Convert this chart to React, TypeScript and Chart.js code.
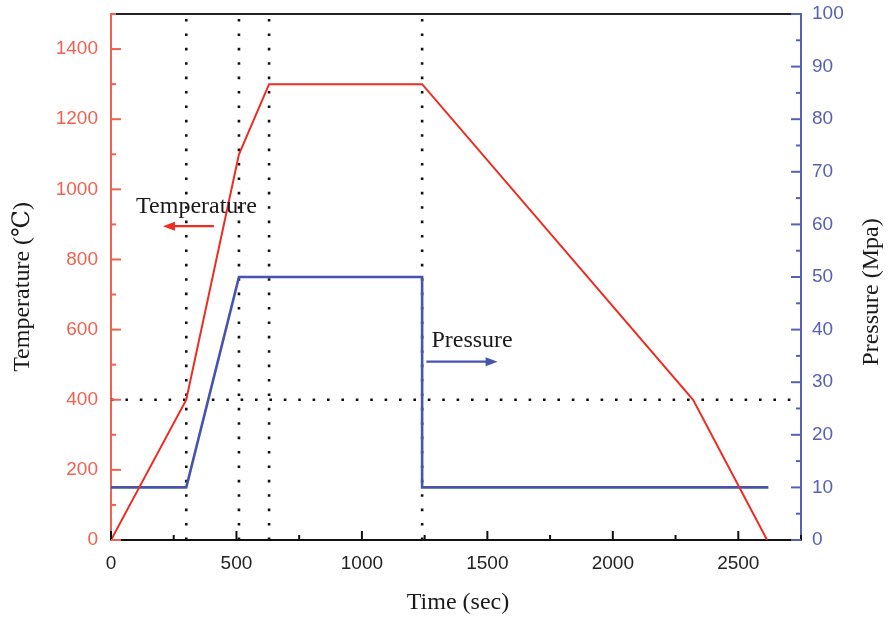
import React, { useEffect, useRef } from "react";
import { Chart, registerables } from "chart.js";

Chart.register(...registerables);

// ---- data ----
const tempTimes = [0, 300, 510, 630, 1240, 2320, 2615];
const tempValues = [0, 400, 1100, 1300, 1300, 400, 0];
const pressTimes = [0, 300, 510, 1240, 1240, 2620];
const pressValues = [10, 10, 50, 50, 10, 10];
const markerTimes = [300, 510, 630, 1240];
const markerTemp = 400;
const xTickValues = [0, 500, 1000, 1500, 2000, 2500];
const leftTickValues = [0, 200, 400, 600, 800, 1000, 1200, 1400];
const rightTickValues = [0, 10, 20, 30, 40, 50, 60, 70, 80, 90, 100];
const xTickStep = 500;
const leftTickStep = 200;
const rightTickStep = 10;
const xRange = [0, 2750];
const leftRange = [0, 1500];
const rightRange = [0, 100];

const RED = "#ee2c22";
const RED_AXIS = "#f2614f";
const BLUE = "#4654ae";
const BLUE_AXIS = "#5661b5";
const SERIF = "'Liberation Serif', 'DejaVu Serif', serif";
const SANS = "'Liberation Sans', Arial, sans-serif";

const dotStyle = {
  borderColor: "#111",
  borderWidth: 2.6,
  borderDash: [2.6, 11.8],
  pointRadius: 0,
  fill: false,
  tension: 0,
};

const decorPlugin = {
  id: "decor",
  afterDraw(chart: any) {
    const { ctx, chartArea } = chart;
    const x = chart.scales.x;
    const y = chart.scales.y;
    const y1 = chart.scales.y1;
    const { left, right, top, bottom } = chartArea;
    ctx.save();
    // top frame line
    ctx.strokeStyle = "#222";
    ctx.lineWidth = 2;
    ctx.beginPath();
    ctx.moveTo(left, top);
    ctx.lineTo(right, top);
    ctx.stroke();
    // x ticks (inward)
    ctx.strokeStyle = "#111";
    ctx.lineWidth = 2;
    for (let v = xRange[0]; v <= xRange[1]; v += xTickStep / 2) {
      const px = x.getPixelForValue(v);
      const major = v % xTickStep === 0;
      ctx.beginPath();
      ctx.moveTo(px, bottom);
      ctx.lineTo(px, bottom - (major ? 9 : 5));
      ctx.stroke();
    }
    // left ticks
    ctx.strokeStyle = RED_AXIS;
    for (let v = leftRange[0]; v <= leftRange[1]; v += leftTickStep / 2) {
      const py = y.getPixelForValue(v);
      const major = v % leftTickStep === 0;
      ctx.beginPath();
      ctx.moveTo(left, py);
      ctx.lineTo(left + (major ? 10 : 5), py);
      ctx.stroke();
    }
    // right ticks
    ctx.strokeStyle = BLUE_AXIS;
    for (let v = rightRange[0]; v <= rightRange[1]; v += rightTickStep / 2) {
      const py = y1.getPixelForValue(v);
      const major = v % rightTickStep === 0;
      ctx.beginPath();
      ctx.moveTo(right, py);
      ctx.lineTo(right - (major ? 10 : 5), py);
      ctx.stroke();
    }
    // axis titles
    ctx.fillStyle = "#1a1a1a";
    ctx.font = `24px ${SERIF}`;
    ctx.textAlign = "center";
    ctx.textBaseline = "middle";
    ctx.save();
    ctx.translate(23, 287);
    ctx.rotate(-Math.PI / 2);
    ctx.fillText("Temperature (\u2103)", 0, 0);
    ctx.restore();
    ctx.save();
    ctx.translate(872, 292);
    ctx.rotate(-Math.PI / 2);
    ctx.fillText("Pressure (Mpa)", 0, 0);
    ctx.restore();
    ctx.textBaseline = "alphabetic";
    ctx.fillText("Time (sec)", (left + right) / 2 + 2, 609);

    // annotations
    ctx.textAlign = "left";
    ctx.fillText("Temperature", x.getPixelForValue(100), y.getPixelForValue(932));
    ctx.fillText("Pressure", x.getPixelForValue(1277), y1.getPixelForValue(36.75));

    const arrow = (x0: number, x1: number, py: number, color: string) => {
      ctx.strokeStyle = color;
      ctx.fillStyle = color;
      ctx.lineWidth = 2.2;
      const dir = Math.sign(x1 - x0);
      ctx.beginPath();
      ctx.moveTo(x0, py);
      ctx.lineTo(x1 - dir * 8, py);
      ctx.stroke();
      ctx.beginPath();
      ctx.moveTo(x1, py);
      ctx.lineTo(x1 - dir * 12, py - 4.5);
      ctx.lineTo(x1 - dir * 12, py + 4.5);
      ctx.closePath();
      ctx.fill();
    };
    arrow(x.getPixelForValue(410), x.getPixelForValue(207), y.getPixelForValue(895), RED);
    arrow(x.getPixelForValue(1257), x.getPixelForValue(1541), y1.getPixelForValue(33.9), BLUE);
    ctx.restore();
  },
};

const fixedTicks = (values: number[]) => (s: any) => {
  s.ticks = values.map((v) => ({ value: v }));
};
const plain = (v: any) => String(v);
const fitV = (w: number) => (s: any) => {
  s.width = w;
  s.paddingTop = 0;
  s.paddingBottom = 0;
};

export default function App() {
  const ref = useRef<HTMLCanvasElement>(null);
  useEffect(() => {
    if (!ref.current) return;
    const datasets: any[] = [
      {
        label: "Temperature",
        data: tempTimes.map((t, i) => ({ x: t, y: tempValues[i] })),
        borderColor: RED,
        borderWidth: 2,
        pointRadius: 0,
        yAxisID: "y",
        tension: 0,
      },
      {
        label: "Pressure",
        data: pressTimes.map((t, i) => ({ x: t, y: pressValues[i] })),
        borderColor: BLUE,
        borderWidth: 2.6,
        pointRadius: 0,
        yAxisID: "y1",
        tension: 0,
      },
      ...markerTimes.map((t) => ({
        ...dotStyle,
        label: "m" + t,
        data: [
          { x: t, y: leftRange[0] },
          { x: t, y: leftRange[1] },
        ],
        yAxisID: "y",
      })),
      {
        ...dotStyle,
        label: "h",
        data: [
          { x: xRange[0], y: markerTemp },
          { x: xRange[1], y: markerTemp },
        ],
        yAxisID: "y",
      },
    ];
    const chart = new Chart(ref.current, {
      type: "line",
      data: { datasets },
      options: {
        animation: false,
        responsive: false,
        layout: { padding: { top: 14 } },
        plugins: { legend: { display: false }, tooltip: { enabled: false } },
        scales: {
          x: {
            type: "linear",
            min: xRange[0],
            max: xRange[1],
            grid: { display: false, drawTicks: false },
            border: { display: true, color: "#111", width: 2 },
            afterBuildTicks: fixedTicks(xTickValues),
            ticks: {
              color: "#222",
              padding: 12,
              font: { family: SANS, size: 19 },
              maxRotation: 0,
              autoSkip: false,
              callback: plain,
            },
            afterFit: (s: any) => {
              s.height = 80;
              s.paddingLeft = 0;
              s.paddingRight = 0;
            },
          },
          y: {
            type: "linear",
            position: "left",
            min: leftRange[0],
            max: leftRange[1],
            grid: { display: false, drawTicks: false },
            border: { display: true, color: RED_AXIS, width: 2 },
            afterBuildTicks: fixedTicks(leftTickValues),
            ticks: {
              color: RED_AXIS,
              padding: 13,
              font: { family: SANS, size: 19 },
              autoSkip: false,
              callback: plain,
            },
            afterFit: fitV(111),
          },
          y1: {
            type: "linear",
            position: "right",
            min: rightRange[0],
            max: rightRange[1],
            grid: { display: false, drawTicks: false },
            border: { display: true, color: BLUE_AXIS, width: 2 },
            afterBuildTicks: fixedTicks(rightTickValues),
            ticks: {
              color: BLUE_AXIS,
              padding: 11,
              font: { family: SANS, size: 19 },
              autoSkip: false,
              callback: plain,
            },
            afterFit: fitV(89),
          },
        },
      },
      plugins: [decorPlugin],
    });
    return () => chart.destroy();
  }, []);
  return (
    <div style={{ position: "fixed", left: 0, top: 0, width: 890, height: 620, background: "#fff" }}>
      <canvas ref={ref} width={890} height={620} />
    </div>
  );
}
